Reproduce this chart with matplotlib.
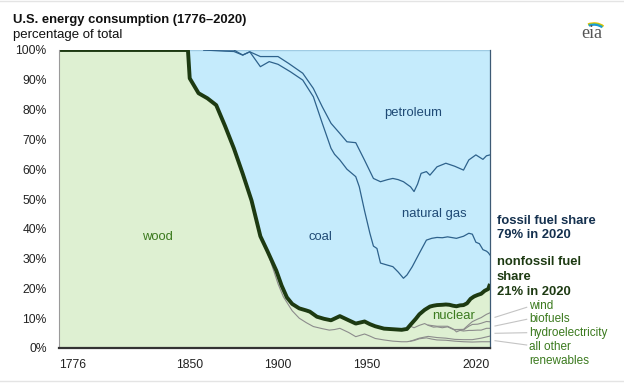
import matplotlib

matplotlib.use("Agg")
import matplotlib.pyplot as plt
from matplotlib.patches import Arc

plt.rcParams["font.family"] = ["Liberation Sans", "DejaVu Sans"]

# Cuota no fosil (linea gruesa): todo lo que queda por debajo es verde
nofosil_anios = [1776, 1849, 1850, 1855, 1860, 1865, 1870, 1875, 1880, 1885, 1890, 1894,
                 1899, 1902, 1905, 1908, 1912, 1916, 1918, 1922, 1926, 1930, 1935, 1940,
                 1944, 1949, 1952, 1955, 1960, 1965, 1970, 1973, 1975, 1978, 1980, 1983,
                 1986, 1988, 1990, 1993, 1995, 1997, 1999, 2001, 2003, 2005, 2007, 2009,
                 2011, 2013, 2015, 2017, 2019, 2020]
nofosil_pct = [100, 100, 90.5, 85.5, 83.8, 81.5, 74.5, 67, 58.5, 49.5, 37.5, 32.5,
               26, 21, 17, 14.8, 13.3, 12.6, 12.2, 10.5, 9.8, 9.3, 10.7, 9.3,
               8.2, 8.9, 8.0, 7.3, 6.5, 6.3, 6.1, 6.4, 7.8, 9.8, 11.3, 12.8,
               13.9, 14.2, 14.4, 14.5, 14.6, 14.5, 14.2, 14.0, 14.3, 14.4, 15.0, 16.5,
               17.3, 17.8, 18.2, 19.2, 19.8, 21.5]

# Techo del carbon (acumulado: no fosil + carbon)
carbon_anios = [1858, 1870, 1875, 1880, 1884, 1890, 1895, 1900, 1907, 1914, 1920, 1925,
                1930, 1932, 1935, 1939, 1944, 1946, 1949, 1952, 1954, 1956, 1958, 1962,
                1965, 1968, 1971, 1973, 1976, 1980, 1984, 1987, 1990, 1993, 1996, 2001,
                2005, 2008, 2010, 2012, 2014, 2016, 2018, 2019, 2020]
carbon_pct = [100, 99.6, 99.5, 98.3, 99.4, 94.4, 96.1, 95.2, 92.7, 89.9, 84.3, 75.5,
              67, 65, 63.1, 60, 57.5, 54.1, 46, 38.5, 34.2, 33.4, 28.5, 27.8,
              27.3, 25.5, 23.4, 24.5, 27.3, 31.8, 36.2, 36.8, 37.1, 37.0, 37.3, 36.8,
              37.5, 38.5, 38.2, 35.5, 35.0, 33.0, 32.5, 32.0, 31.2]

# Techo del gas natural (acumulado); por encima, petroleo hasta el 100%
gas_anios = [1858, 1875, 1880, 1884, 1890, 1900, 1906, 1914, 1920, 1925, 1930, 1935,
             1939, 1944, 1949, 1954, 1958, 1962, 1965, 1968, 1971, 1975, 1977, 1979,
             1981, 1984, 1986, 1990, 1995, 2000, 2005, 2008, 2012, 2016, 2018, 2020]
gas_pct = [100, 100, 98.3, 99.4, 97.8, 97.8, 95.5, 92.2, 87.1, 81, 75.4, 72,
           69.2, 68.9, 63, 56.9, 55.8, 56.5, 56.9, 56.5, 55.8, 54.1, 52.5, 55,
           58.6, 59.2, 58, 60.8, 62, 61, 59.7, 63.1, 64.8, 63.3, 64.5, 64.8]

# Capas no fosiles, acumuladas desde abajo: lenia, otras renovables, hidro, biocombustibles, eolica
lenia_anios = [1890, 1895, 1900, 1903, 1908, 1912, 1916, 1920, 1925, 1929, 1932, 1935,
               1940, 1944, 1949, 1952, 1955, 1960, 1965, 1970, 1973, 1977, 1980, 1984,
               1987, 1990, 1995, 2000, 2005, 2010, 2015, 2020]
lenia_pct = [37.5, 30.5, 21.5, 17.2, 12.5, 10, 8.5, 7.2, 6.5, 6.0, 6.2, 6.6,
             5.2, 3.8, 4.7, 4.0, 3.2, 2.7, 2.3, 2.1, 2.1, 2.5, 3.1, 3.4,
             3.0, 2.7, 2.6, 2.3, 2.1, 2.0, 2.1, 2.1]
otras_anios = [1975, 1980, 1985, 1990, 1995, 2000, 2005, 2010, 2015, 2020]
otras_pct = [2.3, 3.3, 3.9, 3.5, 3.3, 2.9, 2.8, 2.8, 3.3, 4.0]
hidro_anios = [1955, 1958, 1960, 1965, 1970, 1973, 1975, 1977, 1980, 1983, 1985, 1988,
               1990, 1993, 1996, 2000, 2001, 2003, 2005, 2008, 2010, 2013, 2015, 2018, 2020]
hidro_pct = [7.3, 6.7, 6.5, 6.1, 6.0, 6.0, 7.3, 6.8, 7.6, 8.2, 7.6, 7.0,
             7.1, 6.8, 7.1, 6.0, 5.4, 5.9, 5.7, 5.9, 5.9, 6.0, 6.0, 6.6, 6.6]
bio_anios = [1985, 1990, 1996, 2000, 2003, 2005, 2008, 2010, 2013, 2015, 2018, 2020]
bio_pct = [7.7, 7.3, 7.3, 6.15, 6.1, 6.05, 7.3, 7.9, 8.0, 8.3, 8.9, 8.8]
eolica_anios = [2000, 2005, 2008, 2010, 2013, 2015, 2018, 2020]
eolica_pct = [6.2, 6.25, 7.85, 8.85, 9.7, 10.2, 11.3, 11.8]

ticks_x = [1776, 1850, 1900, 1950, 2020]
ticks_y = list(range(0, 101, 10))

VERDE = "#def0d2"
AZUL = "#c5ebfc"
LINEA_AZUL = "#2e628c"
GRIS = "#8c8c8c"
VERDE_OSCURO = "#1d3a12"
TEXTO_VERDE = "#3b7a1e"
TEXTO_AZUL = "#1f4a75"

fig = plt.figure(figsize=(6.24, 3.83), dpi=100)
ax = fig.add_axes([59 / 624, 35 / 383, 431 / 624, 298 / 383])

ax.fill_between(nofosil_anios, 0, nofosil_pct, color=VERDE, lw=0)
ax.fill_between(nofosil_anios, nofosil_pct, 100, color=AZUL, lw=0)
ax.plot([1849, 2020], [100, 100], color="#9fcbe3", lw=1)

ax.plot(carbon_anios, carbon_pct, color=LINEA_AZUL, lw=0.9)
ax.plot(gas_anios, gas_pct, color=LINEA_AZUL, lw=0.9)
for anios, pct in [(lenia_anios, lenia_pct), (otras_anios, otras_pct), (hidro_anios, hidro_pct),
                   (bio_anios, bio_pct), (eolica_anios, eolica_pct)]:
    ax.plot(anios, pct, color=GRIS, lw=0.8)
ax.plot(nofosil_anios, nofosil_pct, color=VERDE_OSCURO, lw=2.8, solid_capstyle="butt")

ax.set_xlim(1776, 2020)
ax.set_ylim(0, 100)
ax.set_xticks(ticks_x)
ax.set_xticklabels([str(t) for t in ticks_x])
ax.set_yticks(ticks_y)
ax.set_yticklabels([f"{t}%" for t in ticks_y])
ax.tick_params(length=0, labelsize=8.7, colors="#222")
ax.tick_params(axis="y", pad=9)
ax.tick_params(axis="x", pad=8)
etiquetas_x = ax.get_xticklabels()
etiquetas_x[0].set_ha("left")
etiquetas_x[-1].set_ha("right")
ax.spines["top"].set_visible(False)
ax.spines["left"].set_color("#9a9a9a")
ax.spines["left"].set_linewidth(0.8)
ax.spines["bottom"].set_color("#333333")
ax.spines["bottom"].set_linewidth(1.6)
ax.spines["right"].set_color("#3d5a75")
ax.spines["right"].set_linewidth(0.9)

# Etiquetas dentro del grafico
ax.text(1976.5, 78.9, "petroleum", color=TEXTO_AZUL, fontsize=9.4, ha="center", va="center")
ax.text(1988.5, 44.9, "natural gas", color=TEXTO_AZUL, fontsize=9.4, ha="center", va="center")
ax.text(1923.8, 37.1, "coal", color=TEXTO_AZUL, fontsize=9.4, ha="center", va="center")
ax.text(1832, 37.1, "wood", color=TEXTO_VERDE, fontsize=9.4, ha="center", va="center")
ax.text(1999.6, 10.8, "nuclear", color=TEXTO_VERDE, fontsize=9.4, ha="center", va="center")


# Textos a la derecha, en pixeles de la figura
def px(x, y):
    return x / 624, 1 - y / 383


fig.text(*px(496.7, 220.7), "fossil fuel share", color="#14304e", fontsize=9.4,
         fontweight="bold", va="center")
fig.text(*px(496.7, 235), "79% in 2020", color="#14304e", fontsize=9.4,
         fontweight="bold", va="center")
for y, t in [(262.3, "nonfossil fuel"), (277, "share"), (291.7, "21% in 2020")]:
    fig.text(*px(496.7, y), t, color=VERDE_OSCURO, fontsize=9.4, fontweight="bold", va="center")
for y, t in [(306, "wind"), (319.5, "biofuels"), (333, "hydroelectricity"),
             (347, "all other"), (361, "renewables")]:
    fig.text(*px(529, y), t, color=TEXTO_VERDE, fontsize=8.5, va="center")
for y0, y1 in [(317.3, 307.3), (326, 319.3), (333.3, 332.7), (340.7, 345)]:
    fig.add_artist(plt.Line2D([495 / 624, 526.7 / 624], [1 - y0 / 383, 1 - y1 / 383],
                              color="#c4c4c4", lw=0.8))

fig.text(*px(13, 20), "U.S. energy consumption (1776\u20132020)", fontsize=9.4,
         fontweight="bold", color="#111", va="center")
fig.text(*px(13, 35), "percentage of total", fontsize=9.5, color="#111", va="center")

# Logo
fig.text(*px(592, 33), "eia", fontsize=13, family="Liberation Serif", color="#555",
         ha="center", va="center")
logo = fig.add_axes([579 / 624, 1 - 33 / 383, 30 / 624, 15 / 383])
logo.set_xlim(0, 30)
logo.set_ylim(0, 15)
logo.axis("off")
for r, c in [(13, "#f2c200"), (12, "#8cc63f"), (11, "#1a9ad6")]:
    logo.add_patch(Arc((15, 0), 2 * r, 2 * r * 0.75, theta1=35, theta2=125, color=c, lw=1.5))

fig.add_artist(plt.Line2D([0, 1], [1 - 1 / 383, 1 - 1 / 383], color="#e4e4e4", lw=1))
fig.add_artist(plt.Line2D([0, 1], [1 - 381 / 383, 1 - 381 / 383], color="#e4e4e4", lw=1))

fig.savefig("out.png", dpi=100)
